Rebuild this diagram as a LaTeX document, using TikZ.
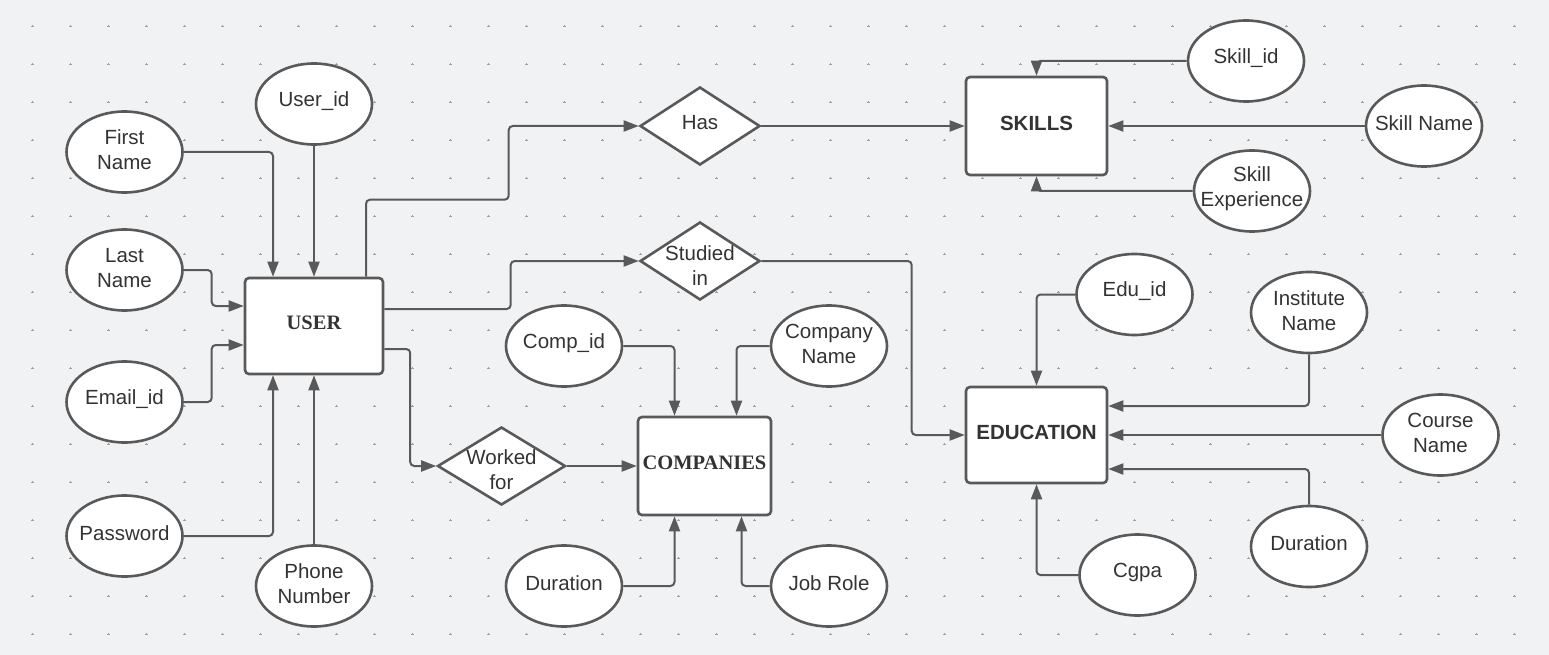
\documentclass[tikz,border=0pt]{standalone}
\usepackage{fontspec}
\setmainfont{Liberation Sans}
\newfontfamily\timesfont{Liberation Serif}
\usetikzlibrary{shapes.geometric,arrows.meta}
\definecolor{bg}{RGB}{241,242,244}
\definecolor{ln}{RGB}{89,89,89}
\definecolor{tx}{RGB}{51,51,51}
\definecolor{dotc}{RGB}{160,160,160}
\begin{document}
\begin{tikzpicture}[x=1pt,y=-1pt,
  attr/.style={ellipse,draw=ln,line width=2.6pt,fill=white,minimum width=116pt,minimum height=81pt,inner sep=0pt},
  attrtext/.style={font=\fontsize{20.5pt}{25pt}\selectfont,text=tx,align=center,inner sep=0pt,yshift=3pt},
  entity/.style={rectangle,rounded corners=4pt,draw=ln,line width=2.6pt,fill=white,inner sep=0pt,text=tx},
  sansbold/.style={font=\fontsize{20.5pt}{25pt}\selectfont\bfseries,text=tx,inner sep=0pt,yshift=3pt},
  serifbold/.style={font=\fontsize{20.5pt}{25pt}\selectfont\timesfont\bfseries,text=tx,inner sep=0pt,yshift=3pt},
  rel/.style={diamond,draw=ln,line width=2.6pt,fill=white,inner sep=0pt,minimum width=120pt,minimum height=78pt},
  conn/.style={draw=ln,line width=2pt,rounded corners=4pt,-{Triangle[length=15pt,width=11pt]}},
]
\useasboundingbox (0,0) rectangle (1549,655);
\fill[bg] (0,0) rectangle (1549,655);
\foreach \i in {0,...,39} \foreach \j in {0,...,16} {
  \draw[dotc,line width=0.5pt] (32.7+38*\i-1.3,26+38*\j) -- (32.7+38*\i+1.3,26+38*\j)
    (32.7+38*\i,26+38*\j-1.3) -- (32.7+38*\i,26+38*\j+1.3);
}

% entities
\node[entity,minimum width=138pt,minimum height=96pt,label={[serifbold]center:USER}] (user) at (314,326) {};
\node[entity,minimum width=141pt,minimum height=98pt,label={[sansbold]center:SKILLS}] (skills) at (1036.5,126) {};
\node[entity,minimum width=133pt,minimum height=98pt,label={[serifbold]center:COMPANIES}] (companies) at (704.5,466) {};
\node[entity,minimum width=141pt,minimum height=96pt,label={[sansbold]center:EDUCATION}] (education) at (1036.5,435) {};

% relationships
\node[rel,label={[attrtext]center:Has}] (has) at (700,126) {};
\node[rel,label={[attrtext,yshift=-8pt]center:Studied\\in}] (studied) at (700,261) {};
\node[rel,minimum width=128pt,label={[attrtext,yshift=-7pt]center:Worked\\for}] (worked) at (501.5,466) {};

% attributes
\node[attr,label={[attrtext,yshift=-1pt]center:First\\Name}] (fname) at (124.5,152) {};
\node[attr,label={[attrtext]center:User\_id}] (uid) at (314,104) {};
\node[attr,label={[attrtext,yshift=-1pt]center:Last\\Name}] (lname) at (124.5,270) {};
\node[attr,label={[attrtext]center:Email\_id}] (email) at (124.5,402) {};
\node[attr,label={[attrtext]center:Password}] (pwd) at (124.5,536) {};
\node[attr,label={[attrtext,yshift=-1pt]center:Phone\\Number}] (phone) at (314,586) {};
\node[attr,label={[attrtext]center:Comp\_id}] (compid) at (564,346) {};
\node[attr,label={[attrtext,yshift=-1pt]center:Company\\Name}] (compname) at (829,346) {};
\node[attr,label={[attrtext]center:Duration}] (cdur) at (564,586) {};
\node[attr,label={[attrtext]center:Job Role}] (jobrole) at (829,586) {};
\node[attr,label={[attrtext]center:Skill\_id}] (skillid) at (1246,61) {};
\node[attr,label={[attrtext]center:Skill Name}] (skillname) at (1424,126) {};
\node[attr,label={[attrtext,yshift=-1pt]center:Skill\\Experience}] (skillexp) at (1252,191) {};
\node[attr,label={[attrtext]center:Edu\_id}] (eduid) at (1134.5,294.5) {};
\node[attr,label={[attrtext,yshift=-1pt]center:Institute\\Name}] (inst) at (1309,312.5) {};
\node[attr,label={[attrtext,yshift=-1pt]center:Course\\Name}] (course) at (1440.5,435) {};
\node[attr,label={[attrtext]center:Duration}] (edur) at (1309,546.5) {};
\node[attr,label={[attrtext]center:Cgpa}] (cgpa) at (1137.5,575) {};

% user attributes
\draw[conn] (fname.east) -| ([xshift=-41pt]user.north);
\draw[conn] (uid.south) -- (user.north);
\draw[conn] (lname.east) -| ([xshift=-32pt,yshift=20pt]user.west) -- ([yshift=20pt]user.west);
\draw[conn] (email.east) -| ([xshift=-32pt,yshift=-19pt]user.west) -- ([yshift=-19pt]user.west);
\draw[conn] (pwd.east) -| ([xshift=-41pt]user.south);
\draw[conn] (phone.north) -- (user.south);

% relationships
\draw[conn] ([xshift=52pt]user.north) -- ++(0,-77) -| ([xshift=-130pt]has.west) -- (has.west);
\draw[conn] (has.east) -- (skills.west);
\draw[conn] ([yshift=17pt]user.east) -| ([xshift=-128pt]studied.west) -- (studied.west);
\draw[conn] (studied.east) -| ([xshift=-53pt]education.west) -- (education.west);
\draw[conn] ([yshift=-23pt]user.east) -| ([xshift=-26pt]worked.west) -- (worked.west);
\draw[conn] (worked.east) -- (companies.west);

% companies attributes
\draw[conn] (compid.east) -| ([xshift=-30pt]companies.north);
\draw[conn] (compname.west) -| ([xshift=32pt]companies.north);
\draw[conn] (cdur.east) -| ([xshift=-30pt]companies.south);
\draw[conn] (jobrole.west) -| ([xshift=37pt]companies.south);

% skills attributes
\draw[conn] (skillid.west) -| (skills.north);
\draw[conn] (skillname.west) -- (skills.east);
\draw[conn] (skillexp.west) -| (skills.south);

% education attributes
\draw[conn] (eduid.west) -| (education.north);
\draw[conn] (inst.south) |- ([yshift=29pt]education.east);
\draw[conn] (course.west) -- (education.east);
\draw[conn] (edur.north) |- ([yshift=-34pt]education.east);
\draw[conn] (cgpa.west) -| (education.south);
\end{tikzpicture}
\end{document}
